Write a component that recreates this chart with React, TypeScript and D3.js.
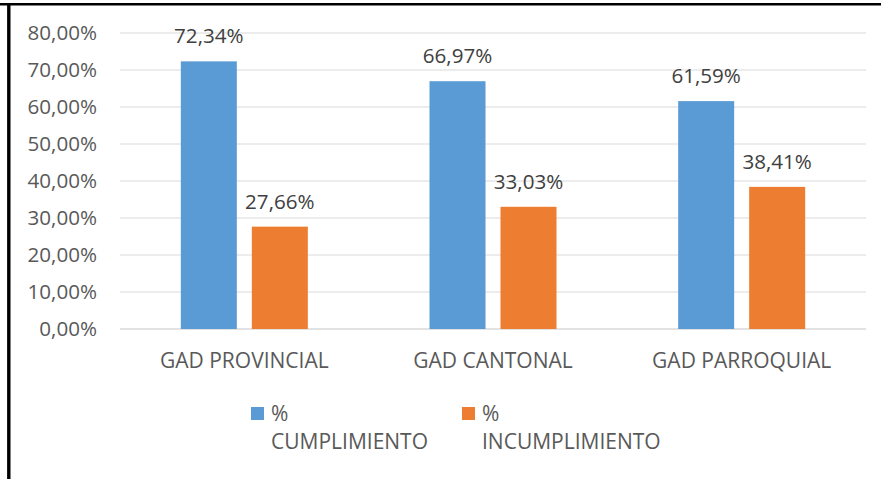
import React from "react";
import * as d3 from "d3";

const categories = ["GAD PROVINCIAL", "GAD CANTONAL", "GAD PARROQUIAL"];
const cumplimiento = [72.34, 66.97, 61.59];
const incumplimiento = [27.66, 33.03, 38.41];
const seriesNames = ["% CUMPLIMIENTO", "% INCUMPLIMIENTO"];
const yTicks = [0, 10, 20, 30, 40, 50, 60, 70, 80];

const COLORS = ["#5b9bd5", "#ed7d31"];
const FONT = "'Open Sans', sans-serif";

const fmt = (v: number) => v.toFixed(2).replace(".", ",") + "%";

export default function App() {
  const W = 881, H = 479;
  const left = 120, right = 866, top = 33, bottom = 329;
  const x = d3.scaleBand<string>().domain(categories).range([left, right]).paddingInner(0).paddingOuter(0);
  const y = d3.scaleLinear().domain([0, 80]).range([bottom, top]);
  const barW = 56, gap = 15;
  const series = [cumplimiento, incumplimiento];

  return (
    <svg width={W} height={H} style={{ position: "absolute", left: 0, top: 0, background: "#fff" }}>
      <rect x={0} y={0} width={W} height={H} fill="#fff" />
      {yTicks.map((t) => (
        <g key={t}>
          <line x1={left} x2={right} y1={y(t)} y2={y(t)} stroke="#d9d9d9" strokeWidth={t === 0 ? 1.5 : 1.2} />
          <text x={97} y={y(t)} dy="0.36em" textAnchor="end" fontFamily={FONT} fontSize={20.6} fill="#595959">
            {t.toFixed(2).replace(".", ",") + "%"}
          </text>
        </g>
      ))}
      {categories.map((c, i) => {
        const cx = x(c)! + x.bandwidth() / 2;
        return (
          <g key={c}>
            {series.map((s, k) => {
              const bx = k === 0 ? cx - gap / 2 - barW : cx + gap / 2;
              return (
                <g key={k}>
                  <rect x={bx} y={y(s[i])} width={barW} height={bottom - y(s[i])} fill={COLORS[k]} />
                  <text x={bx + barW / 2} y={y(s[i]) - 18} textAnchor="middle" fontFamily={FONT} fontSize={20.6} fill="#404040">
                    {fmt(s[i])}
                  </text>
                </g>
              );
            })}
            <text x={cx} y={368} textAnchor="middle" fontFamily={FONT} fontSize={21} fill="#595959">
              {c}
            </text>
          </g>
        );
      })}
      {seriesNames.map((n, k) => {
        const lx = k === 0 ? 251 : 462;
        const [p, rest] = [n.split(" ")[0], n.split(" ")[1]];
        return (
          <g key={n}>
            <rect x={lx} y={407} width={13} height={13} fill={COLORS[k]} />
            <text x={lx + 20} y={421} fontFamily={FONT} fontSize={21} fill="#595959">{p}</text>
            <text x={lx + 20} y={449} fontFamily={FONT} fontSize={21} fill="#595959">{rest}</text>
          </g>
        );
      })}
      <line x1={0} x2={W} y1={4.2} y2={4.2} stroke="#000" strokeWidth={2.6} />
      <line x1={8.8} x2={8.8} y1={3} y2={H} stroke="#000" strokeWidth={3.4} />
    </svg>
  );
}
